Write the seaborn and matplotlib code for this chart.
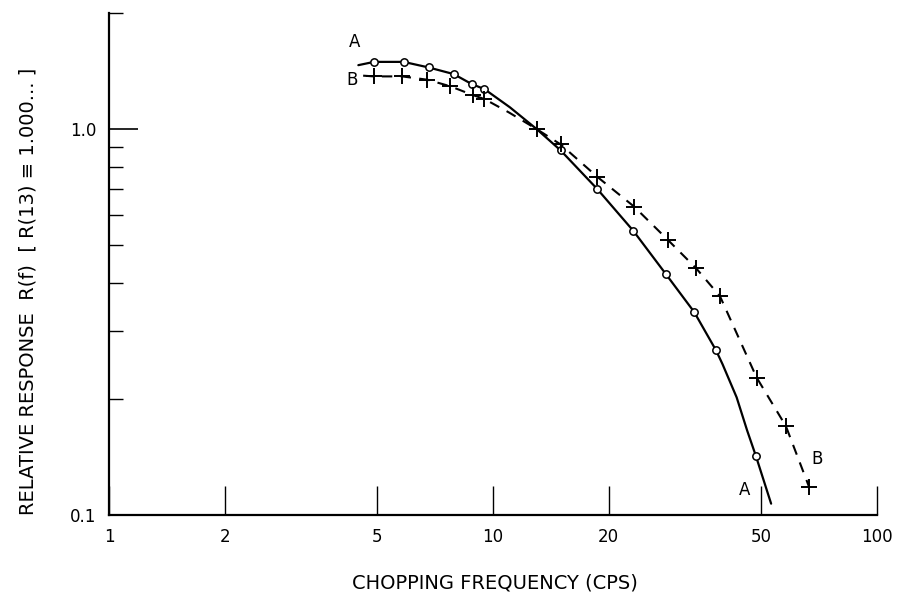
import matplotlib
matplotlib.use("Agg")
import matplotlib.pyplot as plt
import matplotlib.ticker as mticker
import seaborn as sns
import pandas as pd

# ---- data ----
# curve A (circles, solid)
a_freq = [4.9, 5.85, 6.8, 7.9, 8.8, 9.5, 15.0, 18.7, 23.2, 28.2, 33.4, 38.1, 48.4]
a_resp = [1.494, 1.494, 1.445, 1.389, 1.309, 1.270, 0.881, 0.699, 0.545, 0.421, 0.336, 0.267, 0.142]
# hand-drawn smooth curve A
a_curve_freq = [4.46, 4.9, 5.85, 6.8, 7.9, 8.8, 9.5, 11.07, 13.0, 15.0, 18.7, 23.2, 28.2, 33.4,
                38.1, 39.6, 43.1, 45.9, 48.4, 53.0]
a_curve_resp = [1.465, 1.494, 1.494, 1.445, 1.389, 1.309, 1.270, 1.139, 1.0, 0.881, 0.699, 0.545,
                0.421, 0.336, 0.267, 0.246, 0.2018, 0.1656, 0.142, 0.107]

# curve B (plus signs, dashed)
b_freq = [4.9, 5.8, 6.75, 7.75, 8.85, 9.5, 13.0, 15.0, 18.7, 23.3, 28.5, 33.8, 39.0, 48.6, 57.9, 66.6]
b_resp = [1.370, 1.370, 1.343, 1.291, 1.226, 1.197, 1.0, 0.913, 0.752, 0.630, 0.517, 0.436, 0.369,
          0.227, 0.170, 0.118]
# hand-drawn dashed curve B
b_curve_freq = [4.59, 4.9, 5.8, 6.75, 7.75, 8.85, 9.5, 11.0, 13.0, 15.0, 18.7, 23.3, 28.5, 33.8,
                39.0, 48.6, 57.9, 66.6]
b_curve_resp = [1.376, 1.370, 1.370, 1.343, 1.291, 1.226, 1.197, 1.105, 1.0, 0.913, 0.752, 0.630,
                0.517, 0.436, 0.369, 0.227, 0.170, 0.118]

x_ticks = [1, 2, 5, 10, 20, 50, 100]
x_ticklabels = ["1", "2", "5", "10", "20", "50", "100"]
y_major = [0.1, 1.0]
y_major_labels = ["0.1", "1.0"]
y_minor = [0.2, 0.3, 0.4, 0.5, 0.6, 0.7, 0.8, 0.9, 2.0]

sns.set_theme(style="ticks")
plt.rcParams["font.family"] = ["DejaVu Sans"]
plt.rcParams["text.color"] = "black"
plt.rcParams["axes.labelcolor"] = "black"

fig = plt.figure(figsize=(8.99, 5.96), dpi=100)
ax = fig.add_axes([109 / 899, 81 / 596, 768 / 899, 502 / 596])

dfa = pd.DataFrame({"f": a_curve_freq, "r": a_curve_resp})
dfb = pd.DataFrame({"f": b_curve_freq, "r": b_curve_resp})
sns.lineplot(data=dfa, x="f", y="r", ax=ax, color="black", lw=1.6, sort=False, estimator=None)
sns.lineplot(data=dfb, x="f", y="r", ax=ax, color="black", lw=1.5, sort=False, estimator=None,
             linestyle=(0, (5, 4)))
sns.scatterplot(x=a_freq, y=a_resp, ax=ax, marker="o", s=28, facecolor="white",
                edgecolor="black", linewidth=1.1, zorder=5)
sns.scatterplot(x=b_freq, y=b_resp, ax=ax, marker="+", s=130, color="black",
                linewidth=1.4, zorder=5)

ax.set_xscale("log")
ax.set_yscale("log")
ax.set_xlim(1, 100)
ax.set_ylim(0.1, 2.0)

ax.xaxis.set_major_locator(mticker.FixedLocator(x_ticks))
ax.xaxis.set_major_formatter(mticker.FixedFormatter(x_ticklabels))
ax.xaxis.set_minor_locator(mticker.NullLocator())
ax.yaxis.set_major_locator(mticker.FixedLocator(y_major))
ax.yaxis.set_major_formatter(mticker.FixedFormatter(y_major_labels))
ax.yaxis.set_minor_locator(mticker.FixedLocator(y_minor))
ax.yaxis.set_minor_formatter(mticker.NullFormatter())

ax.tick_params(axis="x", which="major", direction="in", length=21, width=1.0, bottom=True,
               pad=9, labelsize=12, colors="black")
ax.tick_params(axis="y", which="major", direction="in", length=21, width=1.2, left=True,
               pad=9, labelsize=12, colors="black")
ax.tick_params(axis="y", which="minor", direction="in", length=10, width=1.0, left=True,
               colors="black")

for s in ["top", "right"]:
    ax.spines[s].set_visible(False)
for s in ["left", "bottom"]:
    ax.spines[s].set_color("black")
    ax.spines[s].set_linewidth(1.6)

ax.set_xlabel("CHOPPING FREQUENCY (CPS)", fontsize=14, color="black")
ax.xaxis.set_label_coords((495 - 109) / 768, -(583 - 515) / 502)
ax.set_ylabel("RELATIVE RESPONSE  R(f)  [ R(13) ≡ 1.000... ]", fontsize=14, color="black")
ax.yaxis.set_label_coords(-(109 - 28) / 768, (515 - 291) / 502)
ax.xaxis.label.set_va("center")
ax.yaxis.label.set_va("center")

ax.text(4.37, 1.68, "A", fontsize=12, ha="center", va="center", color="black")
ax.text(4.29, 1.34, "B", fontsize=12, ha="center", va="center", color="black")
ax.text(45.2, 0.116, "A", fontsize=12, ha="center", va="center", color="black")
ax.text(69.8, 0.1394, "B", fontsize=12, ha="center", va="center", color="black")

fig.savefig("out.png", dpi=100, facecolor="white")
